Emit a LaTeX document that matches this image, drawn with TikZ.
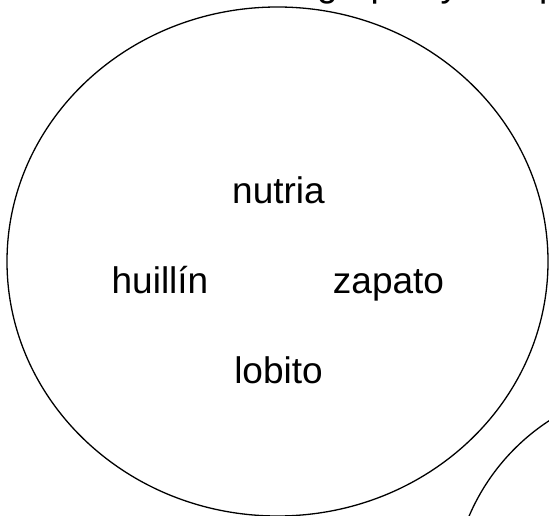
\documentclass[tikz,border=0pt]{standalone}
\usepackage{fontspec}
\setmainfont{Liberation Sans}
\begin{document}
\begin{tikzpicture}[x=1pt,y=1pt,
  word/.style={inner sep=0pt, anchor=base, font=\fontsize{37}{44}\selectfont},
  outline/.style={draw=black, line width=1.3pt}]
\useasboundingbox (0,0) rectangle (549,515);
\begin{scope}
\clip (0,0) rectangle (549,515);
\draw[outline] (277.5,253.5) ellipse [x radius=270.5, y radius=254.5];
\draw[outline] (666,-85) circle (214);
\node[word, anchor=base west] (toptext) at (317,518) {grupos y completa};
\end{scope}
\node[word] (nutria) at (278.5,311) {nutria};
\node[word] (huillin) at (160,222) {huillín};
\node[word] (zapato) at (388.5,222) {zapato};
\node[word] (lobito) at (278.5,132) {lobito};
\end{tikzpicture}
\end{document}
